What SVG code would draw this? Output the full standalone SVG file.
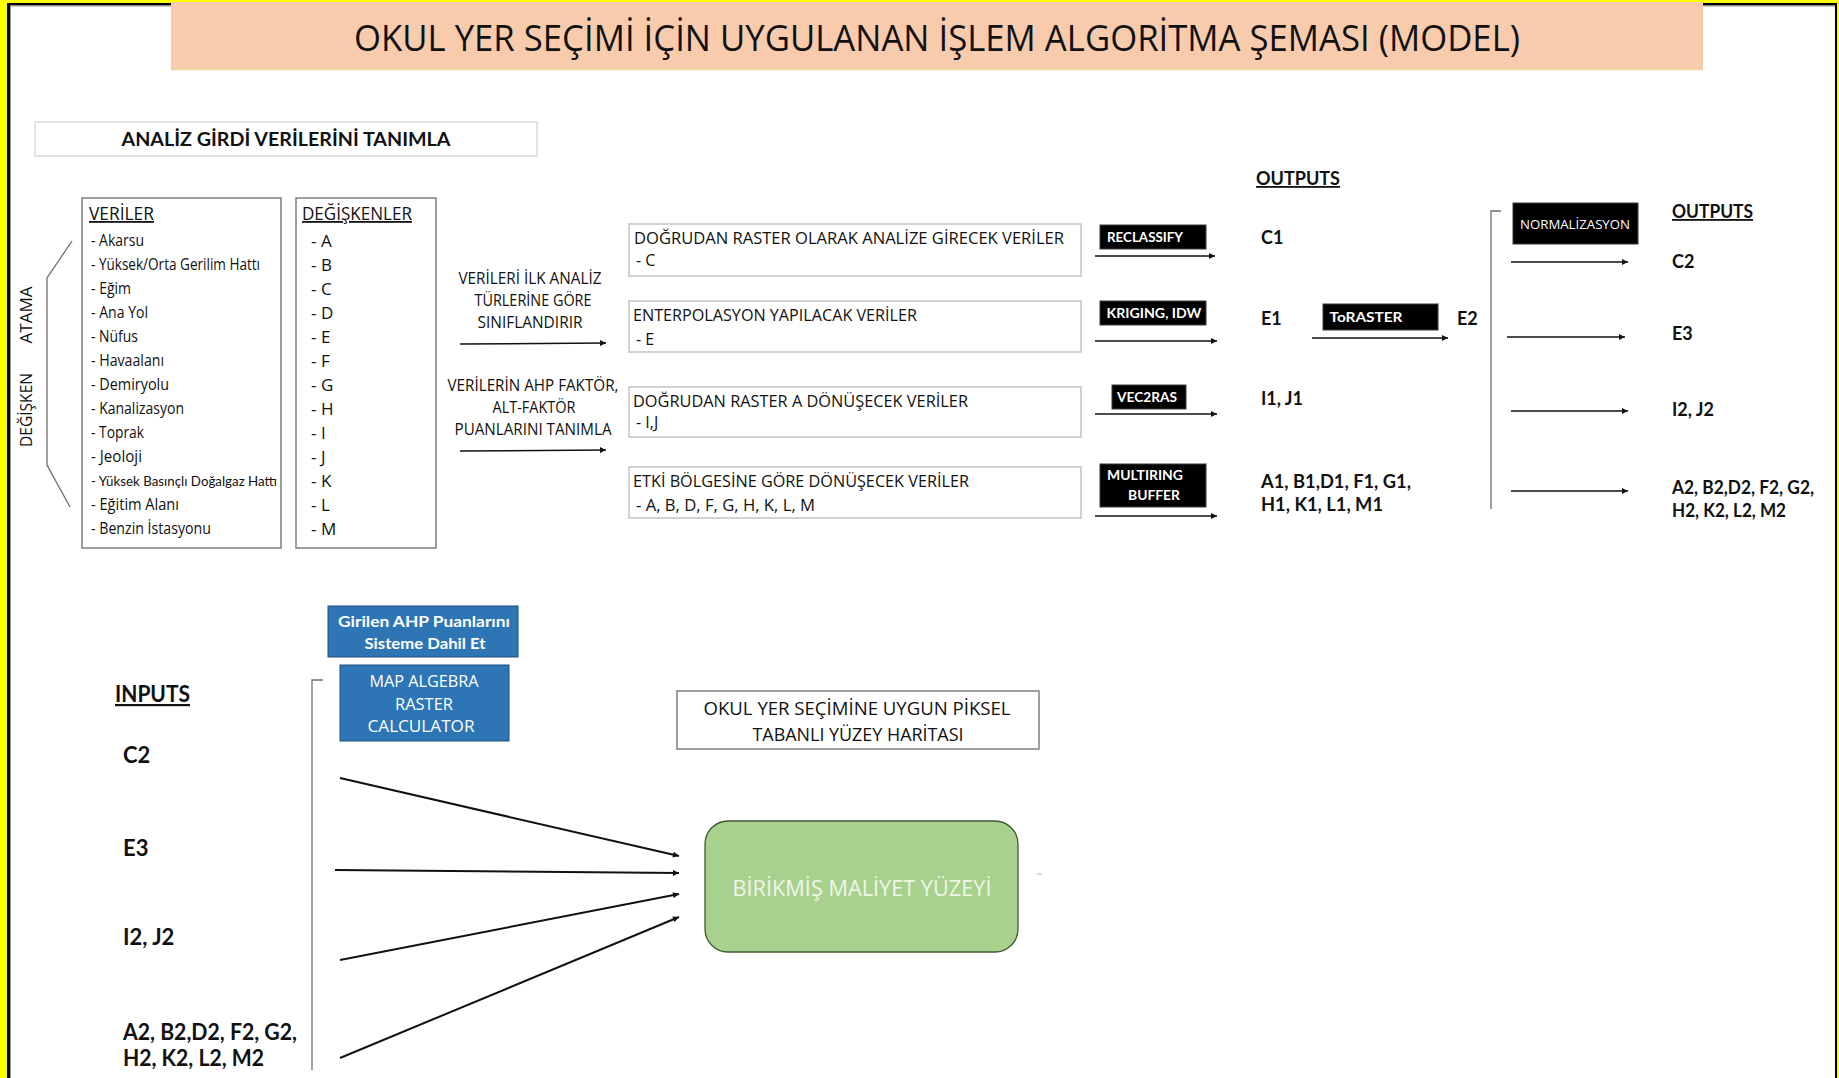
<svg xmlns="http://www.w3.org/2000/svg" width="1839" height="1078" viewBox="0 0 1839 1078">
  <defs>
    <marker id="ah" viewBox="0 0 10 10" refX="10" refY="5" markerWidth="7" markerHeight="6" markerUnits="userSpaceOnUse" orient="auto">
      <path d="M0,0 L10,5 L0,10 z" fill="#111"/>
    </marker>
    <style>
      text { font-family: "Open Sans", Lato, "Liberation Sans", sans-serif; fill: #111111; }
      .b { font-family: Lato, "Open Sans", "Liberation Sans", sans-serif; font-weight: bold; }
      .u { text-decoration: underline; }
      .mid { text-anchor: middle; }
      .wt { fill: #ffffff; }
      .item { font-size: 15.5px; }
      .narrow { font-family: Lato, "Open Sans", "Liberation Sans", sans-serif; font-size: 14px; }
      .var { font-size: 17px; }
      .cat { font-size: 16px; }
      .lbl { font-family: Lato, "Open Sans", "Liberation Sans", sans-serif; font-size: 13px; font-weight: bold; fill: #ffffff; text-anchor: middle; }
      .out { font-family: Lato, "Open Sans", "Liberation Sans", sans-serif; font-size: 18px; font-weight: bold; }
      .inp { font-family: Lato, "Open Sans", "Liberation Sans", sans-serif; font-size: 22px; font-weight: bold; }
      .frame { fill: #ffffff; stroke: #7f7f7f; stroke-width: 1.5; }
      .catbox { fill: #ffffff; stroke: #c4c4c4; stroke-width: 1.5; }
      .blk { fill: #000000; stroke: #3a3a3a; stroke-width: 1; }
      .blue { fill: #2E75B6; stroke: #1F4E79; stroke-width: 1; }
      .arr { stroke: #111; stroke-width: 1.5; fill: none; marker-end: url(#ah); }
      .arr2 { stroke: #111; stroke-width: 2; fill: none; marker-end: url(#ah); }
      .brk { stroke: #6f6f6f; stroke-width: 1.3; fill: none; }
    </style>
  </defs>

  <!-- page frame -->
  <rect x="0" y="0" width="1839" height="1078" fill="#FFFF00"/>
  <rect x="7" y="3" width="1830" height="1100" fill="#000000"/>
  <rect x="10" y="5.5" width="1825" height="1100" fill="#ffffff"/>
  <path d="M10.5,1078 V6 H1835" stroke="#9a9a9a" stroke-width="1" fill="none"/>

  <!-- title -->
  <g id="title">
    <rect x="171" y="2" width="1532" height="68" fill="#F8CBAD"/>
    <line x1="171" y1="69.5" x2="1703" y2="69.5" stroke="#F2D49B" stroke-width="1.5"/>
    <text x="937" y="51" class="mid" font-size="36" textLength="1166" lengthAdjust="spacingAndGlyphs">OKUL YER SEÇİMİ İÇİN UYGULANAN İŞLEM ALGORİTMA ŞEMASI (MODEL)</text>
  </g>

  <g id="analiz-girdi">
    <rect x="35" y="122" width="502" height="34" fill="#ffffff" stroke="#dadada" stroke-width="1.5"/>
    <text x="286" y="146" class="mid b" font-size="19" textLength="329" lengthAdjust="spacingAndGlyphs">ANALİZ GİRDİ VERİLERİNİ TANIMLA</text>
  </g>

  <!-- side label with brace -->
  <g id="degisken-atama">
    <path class="brk" d="M72,241 L47,278 V465 L70,507"/>
    <text transform="translate(32,315) rotate(-90)" class="mid" font-size="17" textLength="57" lengthAdjust="spacingAndGlyphs">ATAMA</text>
    <text transform="translate(32,410) rotate(-90)" class="mid" font-size="17" textLength="74" lengthAdjust="spacingAndGlyphs">DEĞİŞKEN</text>
  </g>

  <g id="veriler">
    <rect class="frame" x="82" y="198" width="199" height="350"/>
    <text x="89" y="220" class="u" font-size="18" textLength="65" lengthAdjust="spacingAndGlyphs">VERİLER</text>
    <text x="91" y="246" class="item" textLength="53" lengthAdjust="spacingAndGlyphs">- Akarsu</text>
    <text x="91" y="270" class="item" textLength="169" lengthAdjust="spacingAndGlyphs">- Yüksek/Orta Gerilim Hattı</text>
    <text x="91" y="294" class="item" textLength="40" lengthAdjust="spacingAndGlyphs">- Eğim</text>
    <text x="91" y="318" class="item" textLength="57" lengthAdjust="spacingAndGlyphs">- Ana Yol</text>
    <text x="91" y="342" class="item" textLength="47" lengthAdjust="spacingAndGlyphs">- Nüfus</text>
    <text x="91" y="366" class="item" textLength="73" lengthAdjust="spacingAndGlyphs">- Havaalanı</text>
    <text x="91" y="390" class="item" textLength="78" lengthAdjust="spacingAndGlyphs">- Demiryolu</text>
    <text x="91" y="414" class="item" textLength="93" lengthAdjust="spacingAndGlyphs">- Kanalizasyon</text>
    <text x="91" y="438" class="item" textLength="53" lengthAdjust="spacingAndGlyphs">- Toprak</text>
    <text x="91" y="462" class="item" textLength="51" lengthAdjust="spacingAndGlyphs">- Jeoloji</text>
    <text x="91" y="486" class="narrow" textLength="186" lengthAdjust="spacingAndGlyphs">- Yüksek Basınçlı Doğalgaz Hattı</text>
    <text x="91" y="510" class="item" textLength="88" lengthAdjust="spacingAndGlyphs">- Eğitim Alanı</text>
    <text x="91" y="534" class="item" textLength="120" lengthAdjust="spacingAndGlyphs">- Benzin İstasyonu</text>
  </g>

  <g id="degiskenler">
    <rect class="frame" x="296" y="198" width="140" height="350"/>
    <text x="302" y="220" class="u" font-size="18" textLength="110" lengthAdjust="spacingAndGlyphs">DEĞİŞKENLER</text>
    <text x="311" y="247" class="var">- A</text>
    <text x="311" y="271" class="var">- B</text>
    <text x="311" y="295" class="var">- C</text>
    <text x="311" y="319" class="var">- D</text>
    <text x="311" y="343" class="var">- E</text>
    <text x="311" y="367" class="var">- F</text>
    <text x="311" y="391" class="var">- G</text>
    <text x="311" y="415" class="var">- H</text>
    <text x="311" y="439" class="var">- I</text>
    <text x="311" y="463" class="var">- J</text>
    <text x="311" y="487" class="var">- K</text>
    <text x="311" y="511" class="var">- L</text>
    <text x="311" y="535" class="var">- M</text>
  </g>

  <g id="siniflandir">
    <text x="530" y="284" class="mid" font-size="16" textLength="143" lengthAdjust="spacingAndGlyphs">VERİLERİ İLK ANALİZ</text>
    <text x="533" y="306" class="mid" font-size="16" textLength="117" lengthAdjust="spacingAndGlyphs">TÜRLERİNE GÖRE</text>
    <text x="530" y="328" class="mid" font-size="16" textLength="105" lengthAdjust="spacingAndGlyphs">SINIFLANDIRIR</text>
  </g>

  <g id="ahp-tanimla">
    <text x="533" y="391" class="mid" font-size="16" textLength="171" lengthAdjust="spacingAndGlyphs">VERİLERİN AHP FAKTÖR,</text>
    <text x="534" y="413" class="mid" font-size="16" textLength="83" lengthAdjust="spacingAndGlyphs">ALT-FAKTÖR</text>
    <text x="533" y="435" class="mid" font-size="16" textLength="157" lengthAdjust="spacingAndGlyphs">PUANLARINI TANIMLA</text>
  </g>

  <g id="raster-direkt">
    <rect class="catbox" x="629" y="224" width="452" height="52"/>
    <text x="634" y="244" class="cat" textLength="430" lengthAdjust="spacingAndGlyphs">DOĞRUDAN RASTER OLARAK ANALİZE GİRECEK VERİLER</text>
    <text x="636" y="266" class="cat">- C</text>
  </g>
  <g id="enterpolasyon">
    <rect class="catbox" x="629" y="301" width="452" height="51"/>
    <text x="633" y="321" class="cat" textLength="284" lengthAdjust="spacingAndGlyphs">ENTERPOLASYON  YAPILACAK VERİLER</text>
    <text x="636" y="345" class="cat">- E</text>
  </g>
  <g id="raster-donusum">
    <rect class="catbox" x="629" y="387" width="452" height="50"/>
    <text x="633" y="407" class="cat" textLength="335" lengthAdjust="spacingAndGlyphs">DOĞRUDAN RASTER A DÖNÜŞECEK VERİLER</text>
    <text x="636" y="428" class="cat">- I,J</text>
  </g>
  <g id="etki-bolgesi">
    <rect class="catbox" x="629" y="467" width="452" height="51"/>
    <text x="633" y="487" class="cat" textLength="336" lengthAdjust="spacingAndGlyphs">ETKİ BÖLGESİNE GÖRE DÖNÜŞECEK VERİLER</text>
    <text x="636" y="511" class="cat" textLength="179" lengthAdjust="spacingAndGlyphs">- A, B, D, F, G, H, K, L, M</text>
  </g>

  <g id="reclassify">
    <rect class="blk" x="1100" y="225" width="106" height="24"/>
    <text x="1145" y="242" class="lbl" textLength="76" lengthAdjust="spacingAndGlyphs">RECLASSIFY</text>
  </g>
  <g id="kriging">
    <rect class="blk" x="1100" y="301" width="106" height="24"/>
    <text x="1154" y="318" class="lbl" textLength="95" lengthAdjust="spacingAndGlyphs">KRIGING, IDW</text>
  </g>
  <g id="vec2ras">
    <rect class="blk" x="1112" y="385" width="74" height="24"/>
    <text x="1147" y="402" class="lbl" textLength="60" lengthAdjust="spacingAndGlyphs">VEC2RAS</text>
  </g>
  <g id="multiring">
    <rect class="blk" x="1100" y="464" width="106" height="43"/>
    <text x="1145" y="480" class="lbl" textLength="76" lengthAdjust="spacingAndGlyphs">MULTIRING</text>
    <text x="1154" y="500" class="lbl" textLength="52" lengthAdjust="spacingAndGlyphs">BUFFER</text>
  </g>
  <g id="toraster">
    <rect class="blk" x="1323" y="304" width="115" height="26"/>
    <text x="1366" y="322" class="lbl" font-size="15" textLength="73" lengthAdjust="spacingAndGlyphs">ToRASTER</text>
  </g>
  <g id="normalizasyon">
    <rect class="blk" x="1513" y="203" width="125" height="41"/>
    <text x="1575" y="229" class="mid wt" font-size="13" textLength="110" lengthAdjust="spacingAndGlyphs">NORMALİZASYON</text>
  </g>

  <g id="outputs-1">
    <text x="1256" y="185" class="out u" textLength="84" lengthAdjust="spacingAndGlyphs">OUTPUTS</text>
    <text x="1261" y="244" class="out">C1</text>
    <text x="1261" y="325" class="out">E1</text>
    <text x="1457" y="325" class="out">E2</text>
    <text x="1261" y="405" class="out">I1, J1</text>
    <text x="1261" y="488" class="out" textLength="150" lengthAdjust="spacingAndGlyphs">A1, B1,D1, F1, G1,</text>
    <text x="1261" y="511" class="out" textLength="122" lengthAdjust="spacingAndGlyphs">H1, K1, L1, M1</text>
  </g>

  <g id="outputs-2">
    <text x="1672" y="218" class="out u" textLength="81" lengthAdjust="spacingAndGlyphs">OUTPUTS</text>
    <text x="1672" y="268" class="out">C2</text>
    <text x="1672" y="340" class="out">E3</text>
    <text x="1672" y="416" class="out">I2, J2</text>
    <text x="1672" y="494" class="out" textLength="142" lengthAdjust="spacingAndGlyphs">A2, B2,D2, F2, G2,</text>
    <text x="1672" y="517" class="out" textLength="114" lengthAdjust="spacingAndGlyphs">H2, K2, L2, M2</text>
  </g>

  <g id="ahp-dahil">
    <rect class="blue" x="328" y="606" width="190" height="51"/>
    <text x="424" y="627" class="mid b wt" font-size="16" textLength="172" lengthAdjust="spacingAndGlyphs">Girilen AHP Puanlarını</text>
    <text x="425" y="649" class="mid b wt" font-size="16" textLength="121" lengthAdjust="spacingAndGlyphs">Sisteme Dahil Et</text>
  </g>
  <g id="map-algebra">
    <rect class="blue" x="340" y="665" width="169" height="76"/>
    <text x="424" y="687" class="mid wt" font-size="16" textLength="109" lengthAdjust="spacingAndGlyphs">MAP ALGEBRA</text>
    <text x="424" y="710" class="mid wt" font-size="16" textLength="58" lengthAdjust="spacingAndGlyphs">RASTER</text>
    <text x="421" y="732" class="mid wt" font-size="16" textLength="107" lengthAdjust="spacingAndGlyphs">CALCULATOR</text>
  </g>

  <g id="inputs">
    <text x="115" y="702" class="inp u" textLength="75" lengthAdjust="spacingAndGlyphs">INPUTS</text>
    <text x="123" y="763" class="inp">C2</text>
    <text x="123" y="856" class="inp">E3</text>
    <text x="123" y="945" class="inp">I2, J2</text>
    <text x="123" y="1040" class="inp" textLength="174" lengthAdjust="spacingAndGlyphs">A2, B2,D2, F2, G2,</text>
    <text x="123" y="1066" class="inp" textLength="141" lengthAdjust="spacingAndGlyphs">H2, K2, L2, M2</text>
  </g>

  <g id="yuzey-haritasi">
    <rect class="frame" x="677" y="691" width="362" height="58"/>
    <text x="857" y="715" class="mid" font-size="19" textLength="307" lengthAdjust="spacingAndGlyphs">OKUL YER SEÇİMİNE UYGUN PİKSEL</text>
    <text x="858" y="741" class="mid" font-size="19" textLength="211" lengthAdjust="spacingAndGlyphs">TABANLI YÜZEY HARİTASI</text>
  </g>

  <g id="birikmis-maliyet">
    <rect x="705" y="821" width="313" height="131" rx="23" ry="23" fill="#A9D18E" stroke="#3f5a2f" stroke-width="1.3"/>
    <text x="862" y="896" class="mid" font-size="21" style="fill:#EEF6E8" textLength="259" lengthAdjust="spacingAndGlyphs">BİRİKMİŞ MALİYET YÜZEYİ</text>
  </g>

  <!-- connectors -->
  <g id="connectors">
    <line class="arr" x1="460" y1="344" x2="606" y2="343"/>
    <line class="arr" x1="460" y1="451" x2="606" y2="450"/>

    <line class="arr" x1="1095" y1="256" x2="1215" y2="256"/>
    <line class="arr" x1="1095" y1="341" x2="1217" y2="341"/>
    <line class="arr" x1="1095" y1="414" x2="1217" y2="414"/>
    <line class="arr" x1="1095" y1="516" x2="1217" y2="516"/>
    <line class="arr" x1="1312" y1="338" x2="1448" y2="338"/>

    <path class="brk" d="M1501,211 H1491 V509"/>
    <line class="arr" x1="1511" y1="262" x2="1628" y2="262"/>
    <line class="arr" x1="1507" y1="337" x2="1625" y2="337"/>
    <line class="arr" x1="1511" y1="411" x2="1628" y2="411"/>
    <line class="arr" x1="1511" y1="491" x2="1628" y2="491"/>

    <path class="brk" d="M323,680 H312 V1070"/>
    <line class="arr2" x1="340" y1="778" x2="679" y2="856"/>
    <line class="arr2" x1="335" y1="870" x2="679" y2="873"/>
    <line class="arr2" x1="340" y1="960" x2="679" y2="894"/>
    <line class="arr2" x1="340" y1="1058" x2="679" y2="917"/>
    <line x1="1037" y1="874" x2="1042" y2="874" stroke="#b0b0b0" stroke-width="1"/>
  </g>
</svg>
